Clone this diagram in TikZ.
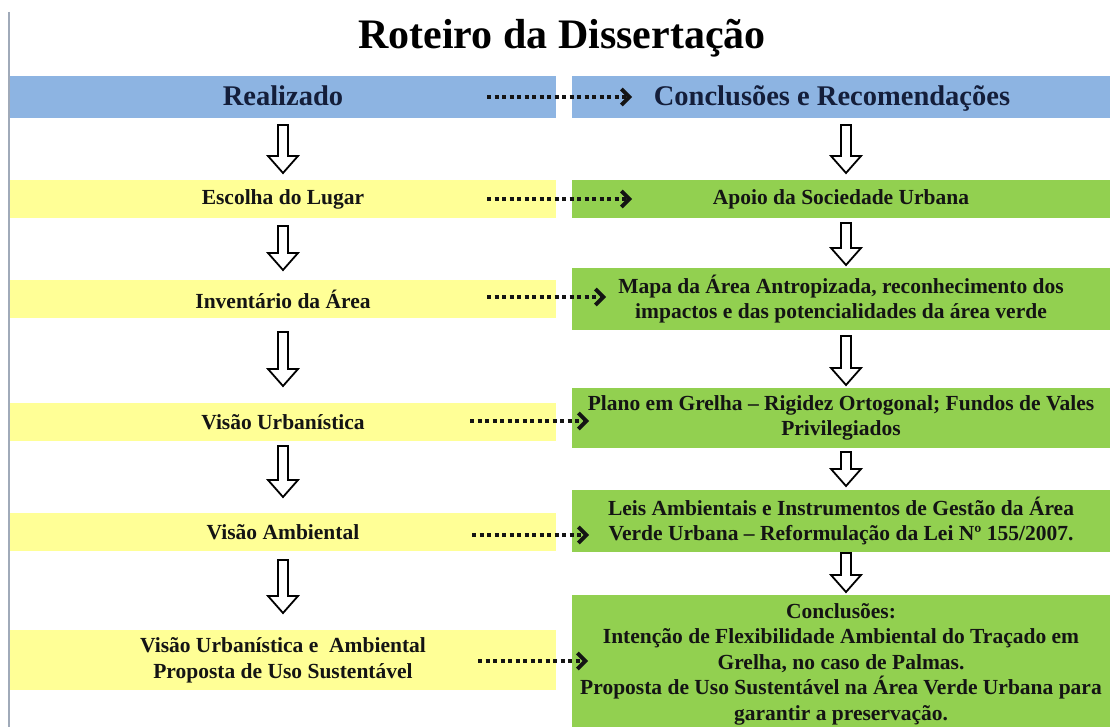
\documentclass[tikz,border=0pt]{standalone}
\usepackage{fontspec}
\setmainfont{Liberation Serif}
\usetikzlibrary{arrows.meta}
\definecolor{hdrblue}{RGB}{141,180,226}
\definecolor{rowyellow}{RGB}{255,255,150}
\definecolor{rowgreen}{RGB}{146,208,80}
\definecolor{hdrtext}{RGB}{20,30,58}
\definecolor{bodytext}{RGB}{20,20,20}
\definecolor{edgegray}{RGB}{160,170,185}
\newcommand\downblock[3]{%
  \draw[blockarrow] ({#1-5},#2) -- ({#1+5},#2) -- ({#1+5},{#3-17}) -- ({#1+15},{#3-17})
    -- (#1,#3) -- ({#1-15},{#3-17}) -- ({#1-5},{#3-17}) -- cycle;}
\begin{document}
\begin{tikzpicture}[x=1pt,y=-1pt,
  hdrbox/.style={fill=hdrblue, draw=none, inner sep=0pt, text=hdrtext,
    text height=22pt, text depth=4pt,
    font=\fontsize{28.5}{33}\selectfont\bfseries},
  ybox/.style={fill=rowyellow, draw=none, inner sep=0pt, text=bodytext, align=center,
    minimum width=546, font=\fontsize{21.5}{26}\selectfont\bfseries},
  gbox/.style={fill=rowgreen, draw=none, inner sep=0pt, text=bodytext, align=center,
    minimum width=538, font=\fontsize{21.5}{25.5}\selectfont\bfseries},
  blockarrow/.style={draw=black, fill=white, line width=1.8pt, line join=miter},
  dotarrow/.style={line width=4pt, dash pattern=on 4pt off 3.5pt, color=bodytext,
    -{Straight Barb[length=8pt,width=16pt,line width=3.8pt]}}
]
\useasboundingbox (0,0) rectangle (1110,727);
\fill[white] (0,0) rectangle (1110,727);
\draw[edgegray, line width=1.2pt] (9,12) -- (9,727);

\node[font=\fontsize{42}{48}\selectfont\bfseries, anchor=base] (title) at (562,49) {Roteiro da Dissertação};

% headers
\node[hdrbox, minimum width=546, minimum height=42] (hL) at (283,97) {Realizado};
\node[hdrbox, minimum width=538, minimum height=42] (hR) at (841,97) {\hspace*{-18pt}Conclusões e Recomendações};

% left column
\node[ybox, minimum height=38] (l1) at (283,199) {Escolha do Lugar};
\node[ybox, minimum height=38] (l2) at (283,299) {Inventário da Área};
\node[ybox, minimum height=38] (l3) at (283,422) {Visão Urbanística};
\node[ybox, minimum height=38] (l4) at (283,532) {Visão Ambiental};
\node[ybox, minimum height=60] (l5) at (283,660) {Visão Urbanística e \ Ambiental\\Proposta de Uso Sustentável};

% right column
\node[gbox, minimum height=38] (r1) at (841,199) {Apoio da Sociedade Urbana};
\node[gbox, minimum height=62] (r2) at (841,299) {Mapa da Área Antropizada, reconhecimento dos\\impactos e das potencialidades da área verde};
\node[gbox, minimum height=60] (r3) at (841,418) {Plano em Grelha – Rigidez Ortogonal; Fundos de Vales\\Privilegiados};
\node[gbox, minimum height=62] (r4) at (841,521) {Leis Ambientais e Instrumentos de Gestão da Área\\Verde Urbana – Reformulação da Lei Nº 155/2007.};
\node[gbox, minimum height=138] (r5) at (841,664) {Conclusões:\\Intenção de Flexibilidade Ambiental do Traçado em\\Grelha, no caso de Palmas.\\Proposta de Uso Sustentável na Área Verde Urbana para\\garantir a preservação.};

% hollow down arrows, left
\downblock{283}{125}{173}
\downblock{283}{226}{270}
\downblock{283}{332}{386}
\downblock{283}{446}{497}
\downblock{283}{560}{613}
% hollow down arrows, right
\downblock{846}{125}{173}
\downblock{846}{223}{265}
\downblock{846}{336}{385}
\downblock{846}{452}{486}
\downblock{846}{553}{592}

% dotted arrows
\coordinate (a0s) at (487,97);  \coordinate (a0e) at (632,97);
\coordinate (a1s) at (487,199); \coordinate (a1e) at (632,199);
\coordinate (a2s) at (487,297); \coordinate (a2e) at (606,297);
\coordinate (a3s) at (470,421); \coordinate (a3e) at (589,421);
\coordinate (a4s) at (472,535); \coordinate (a4e) at (589,535);
\coordinate (a5s) at (478,661); \coordinate (a5e) at (588,661);
\draw[dotarrow] (a0s) -- (a0e);
\draw[dotarrow] (a1s) -- (a1e);
\draw[dotarrow] (a2s) -- (a2e);
\draw[dotarrow] (a3s) -- (a3e);
\draw[dotarrow] (a4s) -- (a4e);
\draw[dotarrow] (a5s) -- (a5e);
\end{tikzpicture}
\end{document}
